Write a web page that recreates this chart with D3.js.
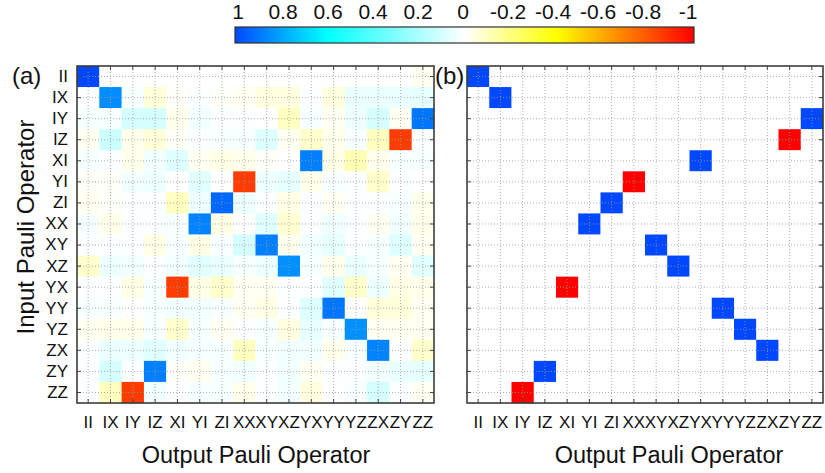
<!DOCTYPE html>
<html>
<head>
<meta charset="utf-8">
<script src="https://d3js.org/d3.v7.min.js"></script>
<style>
  body { margin: 0; background: #fff; }
  text { font-family: "Liberation Sans", Arial, sans-serif; fill: #111; }
</style>
</head>
<body>
<svg width="825" height="473"></svg>
<script>
// Pauli operator labels (rows = input, columns = output)
const paulis = ['II','IX','IY','IZ','XI','YI','ZI','XX','XY','XZ','YX','YY','YZ','ZX','ZY','ZZ'];

// (a) measured transfer matrix, one row per input operator
const measured = [
  [1.00, 0.00, 0.00, 0.00, 0.00, 0.00, 0.00, 0.00,  0.00, 0.00, 0.00, 0.00, 0.00, 0.00, 0.00,-0.02],
  [0.01, 0.85, 0.02,-0.06,-0.01, 0.01,-0.01,-0.02, -0.05,-0.05, 0.01,-0.05, 0.05, 0.05, 0.05, 0.06],
  [0.02, 0.02, 0.10, 0.10,-0.03, 0.03, 0.01, 0.01,  0.00,-0.10, 0.02,-0.02, 0.04, 0.10,-0.02, 0.90],
  [-0.02,0.12,-0.03,-0.06,-0.01, 0.01, 0.02, 0.02,  0.08,-0.02,-0.08,-0.03, 0.02,-0.10,-0.86, 0.01],
  [0.02, 0.01,-0.03, 0.03, 0.08,-0.02,-0.04,-0.03, -0.01, 0.00, 0.88,-0.04,-0.12,-0.03, 0.02, 0.02],
  [-0.01,-0.01,0.03, 0.04, 0.00, 0.07, 0.00,-0.86,  0.04, 0.06,-0.03, 0.02, 0.01,-0.08, 0.01, 0.00],
  [-0.02,-0.01,0.01, 0.01,-0.10, 0.04, 0.93, 0.04,  0.01,-0.04, 0.01,-0.02, 0.01, 0.01, 0.02,-0.03],
  [0.02,-0.03, 0.01, 0.01, 0.02, 0.87,-0.04, 0.00,  0.07,-0.07, 0.01, 0.03, 0.01,-0.02, 0.03,-0.03],
  [0.01, 0.01, 0.01,-0.04, 0.02,-0.04, 0.02, 0.10,  0.88,-0.03, 0.03, 0.06, 0.01, 0.02, 0.08,-0.02],
  [-0.08,0.04, 0.03, 0.01, 0.03, 0.07, 0.05, 0.02,  0.04, 0.84, 0.02,-0.03, 0.05, 0.02,-0.02, 0.07],
  [0.01, 0.01,-0.04, 0.02,-0.86,-0.04,-0.08,-0.02, -0.02, 0.01, 0.01, 0.07,-0.08, 0.04,-0.04,-0.03],
  [0.02, 0.02, 0.00, 0.02, 0.03, 0.03, 0.02,-0.02, -0.04, 0.01, 0.08, 0.90, 0.00,-0.06,-0.06,-0.02],
  [-0.02,-0.03,-0.03,0.02,-0.08, 0.02,-0.02, 0.01,  0.02,-0.05, 0.06, 0.02, 0.84,-0.02,-0.02,-0.02],
  [0.01, 0.05, 0.04, 0.07, 0.03, 0.02, 0.02,-0.10,  0.02, 0.03, 0.03,-0.03, 0.02, 0.87, 0.01,-0.08],
  [0.01, 0.10, 0.01, 0.88,-0.01,-0.02, 0.02, 0.03,  0.01, 0.03,-0.02, 0.01, 0.01, 0.03, 0.05, 0.06],
  [0.01,-0.10,-0.86, 0.03, 0.01, 0.02, 0.02,-0.03,  0.01, 0.03,-0.05, 0.00, 0.02, 0.10, 0.01,-0.02]
];

// (b) ideal map: output operator and sign for each input operator
const idealTarget = ['II','IX','ZZ','ZY','YX','XX','ZI','YI','XY','XZ','XI','YY','YZ','ZX','IZ','IY'];
const idealSign   = [1, 1, 1, -1, 1, -1, 1, 1, 1, 1, -1, 1, 1, 1, 1, -1];

// colour bar ticks
const barTicks = [1, 0.8, 0.6, 0.4, 0.2, 0, -0.2, -0.4, -0.6, -0.8, -1];

const svg = d3.select('svg');
const color = d3.scaleLinear()
  .domain([1, 0.6, 0, -0.4, -1])
  .range(['#0048ff', '#00ffff', '#ffffff', '#ffff00', '#ff0000']);

// flatten into cells
const cellsA = [];
measured.forEach((row, i) => row.forEach((v, j) => cellsA.push({r: paulis[i], c: paulis[j], v: v})));
const cellsB = [];
paulis.forEach((p, i) => paulis.forEach(q => {
  cellsB.push({r: p, c: q, v: q === idealTarget[i] ? idealSign[i] : 0});
}));

const plotTop = 66, plotBottom = 403;
const y = d3.scaleBand().domain(paulis).range([plotTop, plotBottom]);

function panel(x0, x1, cells, tag, showY) {
  const x = d3.scaleBand().domain(paulis).range([x0, x1]);
  const g = svg.append('g');

  g.selectAll('rect.cell')
    .data(cells)
    .enter()
    .append('rect')
    .attr('class', 'cell')
    .attr('x', d => x(d.c))
    .attr('y', d => y(d.r))
    .attr('width', x.bandwidth() + 0.3)
    .attr('height', y.bandwidth() + 0.3)
    .attr('fill', d => color(d.v));

  // dotted grid through tick positions
  g.selectAll('line.vg').data(paulis).enter().append('line')
    .attr('x1', d => x(d) + x.bandwidth() / 2).attr('x2', d => x(d) + x.bandwidth() / 2)
    .attr('y1', plotTop).attr('y2', plotBottom)
    .attr('stroke', '#9a9a9a').attr('stroke-width', 0.8).attr('stroke-dasharray', '1,2');
  g.selectAll('line.hg').data(paulis).enter().append('line')
    .attr('y1', d => y(d) + y.bandwidth() / 2).attr('y2', d => y(d) + y.bandwidth() / 2)
    .attr('x1', x0).attr('x2', x1)
    .attr('stroke', '#9a9a9a').attr('stroke-width', 0.8).attr('stroke-dasharray', '1,2');

  // axes with inward ticks on all sides
  g.append('g').attr('transform', `translate(0,${plotBottom})`)
    .call(d3.axisBottom(x).tickSize(-4).tickPadding(13))
    .call(a => a.select('.domain').remove())
    .call(a => a.selectAll('text').attr('font-size', 17).attr('fill', '#111')
      .attr('font-family', '"Liberation Sans", Arial, sans-serif'));
  g.append('g').attr('transform', `translate(0,${plotTop})`)
    .call(d3.axisTop(x).tickSize(-4).tickFormat(''))
    .call(a => a.select('.domain').remove());
  g.append('g').attr('transform', `translate(${x0},0)`)
    .call(d3.axisLeft(y).tickSize(-4).tickPadding(9).tickFormat(showY ? (d => d) : ''))
    .call(a => a.select('.domain').remove())
    .call(a => a.selectAll('text').attr('font-size', 17).attr('fill', '#111')
      .attr('font-family', '"Liberation Sans", Arial, sans-serif'));
  g.append('g').attr('transform', `translate(${x1},0)`)
    .call(d3.axisRight(y).tickSize(-4).tickFormat(''))
    .call(a => a.select('.domain').remove());
  g.selectAll('.tick line').attr('stroke', '#444');

  g.append('rect')
    .attr('x', x0).attr('y', plotTop)
    .attr('width', x1 - x0).attr('height', plotBottom - plotTop)
    .attr('fill', 'none').attr('stroke', '#3c3c3c').attr('stroke-width', 1.6);

  g.append('text')
    .attr('x', tag.x).attr('y', 84)
    .attr('font-size', 24)
    .text(tag.t);
}

panel(77, 434, cellsA, {t: '(a)', x: 12}, true);
panel(467, 823, cellsB, {t: '(b)', x: 435}, false);

// axis titles
svg.append('text').attr('x', 256).attr('y', 463).attr('text-anchor', 'middle')
  .attr('font-size', 23.5).text('Output Pauli Operator');
svg.append('text').attr('x', 669).attr('y', 463).attr('text-anchor', 'middle')
  .attr('font-size', 23.5).text('Output Pauli Operator');
svg.append('text')
  .attr('transform', 'translate(34,227) rotate(-90)')
  .attr('text-anchor', 'middle')
  .attr('font-size', 24).text('Input Pauli Operator');

// colour bar
const cb = d3.scaleLinear().domain([1, -1]).range([238, 688]);
const grad = svg.append('defs').append('linearGradient')
  .attr('id', 'cbar').attr('x1', '0%').attr('x2', '100%');
d3.range(0, 1.0001, 0.05).forEach(t => {
  grad.append('stop').attr('offset', (t * 100) + '%').attr('stop-color', color(1 - 2 * t));
});
svg.append('rect')
  .attr('x', 235).attr('y', 27).attr('width', 459).attr('height', 16)
  .attr('fill', 'url(#cbar)').attr('stroke', '#333').attr('stroke-width', 1.2);
svg.selectAll('text.cbl')
  .data(barTicks)
  .enter()
  .append('text')
  .attr('class', 'cbl')
  .attr('x', d => cb(d))
  .attr('y', 19)
  .attr('text-anchor', 'middle')
  .attr('font-size', 21)
  .text(d => d3.format('')(d).replace('−', '-'));
</script>
</body>
</html>
